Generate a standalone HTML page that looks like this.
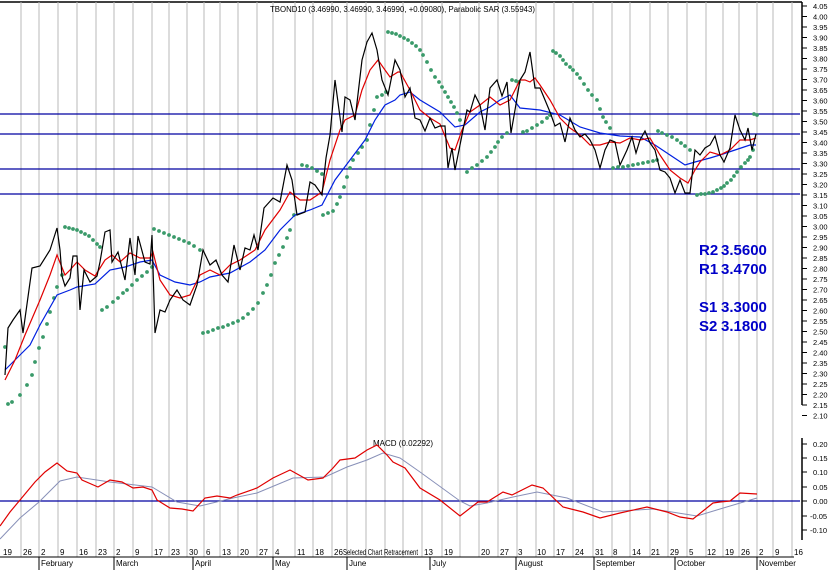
<!DOCTYPE html>
<html><head><meta charset="utf-8"><style>
html,body{margin:0;padding:0;background:#fff;}
svg{display:block;font-family:"Liberation Sans",Arial,sans-serif;}
</style></head><body>
<svg width="836" height="570" viewBox="0 0 836 570" xmlns="http://www.w3.org/2000/svg">
<rect width="836" height="570" fill="#fff"/>
<line x1="0" y1="2" x2="802" y2="2" stroke="#000" stroke-width="1.5"/>
<g stroke="#b8b8b8" stroke-width="1">
<line x1="21" y1="2" x2="21" y2="557"/><line x1="39" y1="2" x2="39" y2="557"/><line x1="58" y1="2" x2="58" y2="557"/><line x1="77" y1="2" x2="77" y2="557"/><line x1="96" y1="2" x2="96" y2="557"/><line x1="114" y1="2" x2="114" y2="557"/><line x1="133" y1="2" x2="133" y2="557"/><line x1="152" y1="2" x2="152" y2="557"/><line x1="169" y1="2" x2="169" y2="557"/><line x1="187" y1="2" x2="187" y2="557"/><line x1="204" y1="2" x2="204" y2="557"/><line x1="220" y1="2" x2="220" y2="557"/><line x1="238" y1="2" x2="238" y2="557"/><line x1="257" y1="2" x2="257" y2="557"/><line x1="273" y1="2" x2="273" y2="557"/><line x1="295" y1="2" x2="295" y2="557"/><line x1="313" y1="2" x2="313" y2="557"/><line x1="332" y1="2" x2="332" y2="557"/><line x1="347" y1="2" x2="347" y2="557"/><line x1="366" y1="2" x2="366" y2="557"/><line x1="385" y1="2" x2="385" y2="557"/><line x1="403" y1="2" x2="403" y2="557"/><line x1="422" y1="2" x2="422" y2="557"/><line x1="442" y1="2" x2="442" y2="557"/><line x1="460" y1="2" x2="460" y2="557"/><line x1="479" y1="2" x2="479" y2="557"/><line x1="498" y1="2" x2="498" y2="557"/><line x1="517" y1="2" x2="517" y2="557"/><line x1="536" y1="2" x2="536" y2="557"/><line x1="554" y1="2" x2="554" y2="557"/><line x1="573" y1="2" x2="573" y2="557"/><line x1="593" y1="2" x2="593" y2="557"/><line x1="612" y1="2" x2="612" y2="557"/><line x1="630" y1="2" x2="630" y2="557"/><line x1="650" y1="2" x2="650" y2="557"/><line x1="668" y1="2" x2="668" y2="557"/><line x1="687" y1="2" x2="687" y2="557"/><line x1="706" y1="2" x2="706" y2="557"/><line x1="723" y1="2" x2="723" y2="557"/><line x1="739" y1="2" x2="739" y2="557"/><line x1="757" y1="2" x2="757" y2="557"/><line x1="773" y1="2" x2="773" y2="557"/><line x1="792" y1="2" x2="792" y2="557"/>
</g>
<g stroke="#0000a0" stroke-width="1.3">
<line x1="0" y1="114" x2="800" y2="114"/><line x1="0" y1="134" x2="800" y2="134"/><line x1="0" y1="169" x2="800" y2="169"/><line x1="0" y1="194" x2="800" y2="194"/>
<line x1="0" y1="501" x2="800" y2="501"/>
</g>
<text x="270" y="12" font-size="8" textLength="265" lengthAdjust="spacingAndGlyphs" fill="#000">TBOND10 (3.46990, 3.46990, 3.46990, +0.09080), Parabolic SAR (3.55943)</text>
<g fill="#3a9a6a">
<circle cx="5" cy="347" r="1.9"/><circle cx="8" cy="404" r="1.9"/><circle cx="12" cy="402" r="1.9"/><circle cx="20" cy="395" r="1.9"/><circle cx="27" cy="385" r="1.9"/><circle cx="32" cy="375" r="1.9"/><circle cx="35" cy="362" r="1.9"/><circle cx="39" cy="348" r="1.9"/><circle cx="43" cy="337" r="1.9"/><circle cx="47" cy="324" r="1.9"/><circle cx="50" cy="312" r="1.9"/><circle cx="54" cy="298" r="1.9"/><circle cx="57" cy="287" r="1.9"/><circle cx="62" cy="275" r="1.9"/>
<circle cx="65" cy="227" r="1.9"/><circle cx="69" cy="228" r="1.9"/><circle cx="73" cy="229" r="1.9"/><circle cx="77" cy="230" r="1.9"/><circle cx="81" cy="232" r="1.9"/><circle cx="85" cy="234" r="1.9"/><circle cx="89" cy="236" r="1.9"/><circle cx="93" cy="240" r="1.9"/><circle cx="97" cy="244" r="1.9"/><circle cx="100" cy="247" r="1.9"/>
<circle cx="102" cy="310" r="1.9"/><circle cx="107" cy="307" r="1.9"/><circle cx="113" cy="302" r="1.9"/><circle cx="118" cy="298" r="1.9"/><circle cx="123" cy="293" r="1.9"/><circle cx="127" cy="290" r="1.9"/><circle cx="132" cy="285" r="1.9"/><circle cx="137" cy="280" r="1.9"/><circle cx="142" cy="276" r="1.9"/><circle cx="147" cy="272" r="1.9"/><circle cx="152" cy="267" r="1.9"/>
<circle cx="154" cy="229" r="1.9"/><circle cx="159" cy="231" r="1.9"/><circle cx="164" cy="233" r="1.9"/><circle cx="169" cy="235" r="1.9"/><circle cx="174" cy="237" r="1.9"/><circle cx="179" cy="239" r="1.9"/><circle cx="184" cy="241" r="1.9"/><circle cx="189" cy="243" r="1.9"/><circle cx="194" cy="246" r="1.9"/><circle cx="200" cy="250" r="1.9"/>
<circle cx="203" cy="333" r="1.9"/><circle cx="208" cy="332" r="1.9"/><circle cx="213" cy="330" r="1.9"/><circle cx="218" cy="328" r="1.9"/><circle cx="223" cy="327" r="1.9"/><circle cx="228" cy="325" r="1.9"/><circle cx="233" cy="323" r="1.9"/><circle cx="238" cy="321" r="1.9"/><circle cx="243" cy="318" r="1.9"/><circle cx="248" cy="314" r="1.9"/><circle cx="253" cy="309" r="1.9"/><circle cx="258" cy="303" r="1.9"/><circle cx="263" cy="293" r="1.9"/><circle cx="267" cy="285" r="1.9"/><circle cx="271" cy="275" r="1.9"/><circle cx="275" cy="263" r="1.9"/><circle cx="279" cy="255" r="1.9"/><circle cx="283" cy="247" r="1.9"/><circle cx="287" cy="238" r="1.9"/><circle cx="290" cy="230" r="1.9"/><circle cx="294" cy="215" r="1.9"/>
<circle cx="302" cy="165" r="1.9"/><circle cx="307" cy="166" r="1.9"/><circle cx="312" cy="168" r="1.9"/><circle cx="317" cy="171" r="1.9"/><circle cx="322" cy="174" r="1.9"/>
<circle cx="323" cy="215" r="1.9"/><circle cx="328" cy="213" r="1.9"/><circle cx="333" cy="211" r="1.9"/><circle cx="337" cy="204" r="1.9"/><circle cx="340" cy="197" r="1.9"/><circle cx="344" cy="187" r="1.9"/><circle cx="347" cy="177" r="1.9"/><circle cx="350" cy="168" r="1.9"/><circle cx="353" cy="160" r="1.9"/><circle cx="358" cy="153" r="1.9"/><circle cx="362" cy="147" r="1.9"/><circle cx="367" cy="140" r="1.9"/><circle cx="370" cy="125" r="1.9"/><circle cx="374" cy="110" r="1.9"/><circle cx="377" cy="97" r="1.9"/><circle cx="382" cy="95" r="1.9"/><circle cx="386" cy="92" r="1.9"/>
<circle cx="388" cy="32" r="1.9"/><circle cx="392" cy="33" r="1.9"/><circle cx="396" cy="34" r="1.9"/><circle cx="400" cy="36" r="1.9"/><circle cx="404" cy="38" r="1.9"/><circle cx="408" cy="40" r="1.9"/><circle cx="412" cy="43" r="1.9"/><circle cx="416" cy="46" r="1.9"/><circle cx="420" cy="50" r="1.9"/><circle cx="423" cy="55" r="1.9"/><circle cx="427" cy="62" r="1.9"/><circle cx="431" cy="70" r="1.9"/><circle cx="435" cy="77" r="1.9"/><circle cx="439" cy="82" r="1.9"/><circle cx="442" cy="87" r="1.9"/><circle cx="445" cy="92" r="1.9"/><circle cx="448" cy="97" r="1.9"/><circle cx="451" cy="102" r="1.9"/><circle cx="454" cy="107" r="1.9"/><circle cx="457" cy="113" r="1.9"/><circle cx="460" cy="120" r="1.9"/>
<circle cx="467" cy="172" r="1.9"/><circle cx="472" cy="168" r="1.9"/><circle cx="477" cy="165" r="1.9"/><circle cx="482" cy="161" r="1.9"/><circle cx="487" cy="157" r="1.9"/><circle cx="491" cy="152" r="1.9"/><circle cx="495" cy="147" r="1.9"/><circle cx="498" cy="142" r="1.9"/><circle cx="502" cy="137" r="1.9"/><circle cx="507" cy="133" r="1.9"/><circle cx="512" cy="80" r="1.9"/><circle cx="516" cy="81" r="1.9"/><circle cx="519" cy="82" r="1.9"/><circle cx="523" cy="132" r="1.9"/><circle cx="527" cy="131" r="1.9"/><circle cx="532" cy="128" r="1.9"/><circle cx="537" cy="125" r="1.9"/><circle cx="542" cy="122" r="1.9"/><circle cx="547" cy="118" r="1.9"/><circle cx="550" cy="115" r="1.9"/>
<circle cx="553" cy="51" r="1.9"/><circle cx="556" cy="53" r="1.9"/><circle cx="560" cy="56" r="1.9"/><circle cx="563" cy="60" r="1.9"/><circle cx="566" cy="64" r="1.9"/><circle cx="570" cy="67" r="1.9"/><circle cx="573" cy="70" r="1.9"/><circle cx="577" cy="74" r="1.9"/><circle cx="580" cy="78" r="1.9"/><circle cx="584" cy="84" r="1.9"/><circle cx="588" cy="90" r="1.9"/><circle cx="592" cy="95" r="1.9"/><circle cx="597" cy="100" r="1.9"/><circle cx="600" cy="109" r="1.9"/><circle cx="603" cy="117" r="1.9"/><circle cx="606" cy="122" r="1.9"/><circle cx="610" cy="128" r="1.9"/>
<circle cx="613" cy="168" r="1.9"/><circle cx="618" cy="167" r="1.9"/><circle cx="623" cy="167" r="1.9"/><circle cx="628" cy="166" r="1.9"/><circle cx="633" cy="165" r="1.9"/><circle cx="638" cy="164" r="1.9"/><circle cx="643" cy="163" r="1.9"/><circle cx="648" cy="162" r="1.9"/><circle cx="653" cy="161" r="1.9"/><circle cx="657" cy="160" r="1.9"/>
<circle cx="658" cy="131" r="1.9"/><circle cx="662" cy="133" r="1.9"/><circle cx="667" cy="135" r="1.9"/><circle cx="672" cy="137" r="1.9"/><circle cx="677" cy="140" r="1.9"/><circle cx="681" cy="143" r="1.9"/><circle cx="685" cy="146" r="1.9"/><circle cx="690" cy="150" r="1.9"/>
<circle cx="697" cy="195" r="1.9"/><circle cx="701" cy="194" r="1.9"/><circle cx="705" cy="194" r="1.9"/><circle cx="709" cy="193" r="1.9"/><circle cx="713" cy="192" r="1.9"/><circle cx="717" cy="190" r="1.9"/><circle cx="721" cy="188" r="1.9"/><circle cx="724" cy="186" r="1.9"/><circle cx="727" cy="183" r="1.9"/><circle cx="731" cy="180" r="1.9"/><circle cx="734" cy="176" r="1.9"/><circle cx="737" cy="172" r="1.9"/><circle cx="741" cy="167" r="1.9"/><circle cx="745" cy="163" r="1.9"/><circle cx="748" cy="160" r="1.9"/><circle cx="750" cy="157" r="1.9"/><circle cx="753" cy="150" r="1.9"/>
<circle cx="754" cy="114" r="1.9"/><circle cx="757" cy="115" r="1.9"/>
</g>
<polyline fill="none" stroke="#0020e0" stroke-width="1.2" points="5,370 20,355 30,345 40,325 57,295 70,290 77,287 95,284 110,270 125,267 140,262 152,260 160,275 175,282 190,285 200,282 210,277 230,273 250,262 265,250 280,230 295,215 310,210 322,205 335,180 350,160 365,140 375,120 385,105 395,100 400,95 410,92 420,100 440,112 455,127 465,125 480,112 490,107 500,100 510,95 520,108 540,110 560,115 580,127 600,133 620,136 640,137 655,145 670,155 685,165 695,162 710,158 720,155 735,150 750,145 756,145"/>
<polyline fill="none" stroke="#e00000" stroke-width="1.2" points="5,380 15,360 25,335 40,300 50,275 57,255 65,275 70,270 77,262 85,270 95,276 105,260 112,255 120,262 130,253 140,258 150,258 153,252 160,280 170,295 180,298 190,295 200,275 210,270 220,275 230,265 240,260 255,250 265,230 280,210 290,192 300,200 310,200 322,192 330,160 340,130 345,120 355,115 362,90 370,70 378,60 385,70 390,77 398,72 400,72 410,90 420,110 430,118 440,124 450,148 455,150 462,130 470,112 480,105 490,97 500,105 510,100 515,90 520,80 525,80 530,82 535,78 540,85 550,100 560,118 570,128 580,135 590,145 600,145 610,142 620,143 630,138 640,140 650,138 660,155 670,170 680,178 688,183 695,170 700,162 710,152 720,155 730,150 740,140 750,140 756,138"/>
<polyline fill="none" stroke="#000" stroke-width="1.2" points="5,375 8,328 13,320 20,310 23,333 32,268 40,266 50,250 57,228 60,250 62,276 65,286 70,278 73,256 77,256 80,310 84,270 90,282 97,276 100,262 105,232 110,230 112,262 118,252 125,280 130,238 135,275 138,236 145,262 150,264 152,235 155,333 160,310 165,312 170,300 177,290 183,300 190,305 197,285 203,250 210,265 216,260 222,275 228,282 234,245 240,270 245,248 250,250 254,235 258,250 264,208 273,198 280,202 287,165 292,180 297,215 305,212 310,182 315,185 322,195 326,158 330,135 335,80 342,132 345,97 350,100 355,120 362,60 367,42 372,33 377,50 382,80 388,95 395,60 400,70 405,97 410,88 415,118 420,120 425,131 430,118 435,128 440,126 445,126 448,168 452,148 455,170 460,145 467,110 470,112 475,95 480,105 485,130 490,88 497,80 502,96 507,82 511,133 515,110 520,80 525,72 530,52 535,88 540,88 545,100 550,112 555,126 560,123 565,142 570,118 575,130 580,137 585,134 590,140 595,150 600,168 605,150 610,140 615,142 620,165 627,150 632,137 636,153 640,140 645,131 650,143 655,150 660,170 665,172 670,178 675,193 680,180 685,193 690,193 695,150 700,155 705,148 710,145 715,136 720,155 724,162 730,148 735,115 740,130 745,140 748,128 752,150 756,134"/>
<g font-size="15" font-weight="bold" fill="#0000c8">
<text x="699" y="255">R2</text><text x="721" y="255">3.5600</text>
<text x="699" y="274">R1</text><text x="721" y="274">3.4700</text>
<text x="699" y="312">S1</text><text x="721" y="312">3.3000</text>
<text x="699" y="331">S2</text><text x="721" y="331">3.1800</text>
</g>
<text x="373" y="446" font-size="8" fill="#000">MACD (0.02292)</text>
<polyline fill="none" stroke="#8890b8" stroke-width="1" points="0,539 20,518 39,502 60,481 77,477 110,482 152,487 177,502 200,506 233,498 257,493 293,478 325,477 347,467 367,460 383,453 400,458 420,472 460,501 470,506 487,503 513,497 537,492 567,498 603,512 653,509 697,516 720,509 757,498"/>
<polyline fill="none" stroke="#e00000" stroke-width="1.2" points="0,526 10,512 20,500 35,482 45,472 57,463 67,471 77,473 82,480 98,487 110,480 122,482 133,488 143,487 152,490 157,500 170,508 182,509 193,511 205,498 217,496 230,498 237,495 257,488 273,478 290,470 308,480 323,478 333,468 340,460 355,458 367,450 377,445 387,455 393,462 405,468 420,488 440,500 460,516 478,502 487,502 503,492 512,495 532,485 543,488 563,507 583,512 600,518 620,513 647,507 667,512 680,517 693,519 713,503 720,502 730,501 740,493 757,494"/>
<line x1="802" y1="2" x2="802" y2="405" stroke="#000" stroke-width="1.5"/>
<line x1="802" y1="438" x2="802" y2="540" stroke="#000" stroke-width="1.5"/>
<g stroke="#000" stroke-width="1">
<path d="M802 6h5M802 16.5h5M802 27h5M802 37.5h5M802 48h5M802 58.5h5M802 69h5M802 79.5h5M802 90h5M802 100.5h5M802 111h5M802 121.5h5M802 132h5M802 142.5h5M802 153h5M802 163.5h5M802 174h5M802 184.5h5M802 195h5M802 205.5h5M802 216h5M802 226.5h5M802 237h5M802 247.5h5M802 258h5M802 268.5h5M802 279h5M802 289.5h5M802 300h5M802 310.5h5M802 321h5M802 331.5h5M802 342h5M802 352.5h5M802 363h5M802 373.5h5M802 384h5M802 394.5h5M802 405h5M802 415.5h5"/>
<path d="M802 444h5M802 458h5M802 472h5M802 487h5M802 501h5M802 516h5M802 530h5"/>
</g>
<g font-size="7.5" fill="#000">
<text x="813" y="9">4.05</text><text x="813" y="19.5">4.00</text><text x="813" y="30">3.95</text><text x="813" y="40.5">3.90</text><text x="813" y="51">3.85</text><text x="813" y="61.5">3.80</text><text x="813" y="72">3.75</text><text x="813" y="82.5">3.70</text><text x="813" y="93">3.65</text><text x="813" y="103.5">3.60</text><text x="813" y="114">3.55</text><text x="813" y="124.5">3.50</text><text x="813" y="135">3.45</text><text x="813" y="145.5">3.40</text><text x="813" y="156">3.35</text><text x="813" y="166.5">3.30</text><text x="813" y="177">3.25</text><text x="813" y="187.5">3.20</text><text x="813" y="198">3.15</text><text x="813" y="208.5">3.10</text><text x="813" y="219">3.05</text><text x="813" y="229.5">3.00</text><text x="813" y="240">2.95</text><text x="813" y="250.5">2.90</text><text x="813" y="261">2.85</text><text x="813" y="271.5">2.80</text><text x="813" y="282">2.75</text><text x="813" y="292.5">2.70</text><text x="813" y="303">2.65</text><text x="813" y="313.5">2.60</text><text x="813" y="324">2.55</text><text x="813" y="334.5">2.50</text><text x="813" y="345">2.45</text><text x="813" y="355.5">2.40</text><text x="813" y="366">2.35</text><text x="813" y="376.5">2.30</text><text x="813" y="387">2.25</text><text x="813" y="397.5">2.20</text><text x="813" y="408">2.15</text><text x="813" y="418.5">2.10</text>
<text x="813" y="447">0.20</text><text x="813" y="461">0.15</text><text x="813" y="475">0.10</text><text x="813" y="490">0.05</text><text x="813" y="504">0.00</text><text x="810" y="519">-0.05</text><text x="810" y="533">-0.10</text>
</g>
<line x1="0" y1="557" x2="794" y2="557" stroke="#000" stroke-width="1"/>
<g stroke="#000" stroke-width="1">
<path d="M39 557V570M114 557V570M193 557V570M273 557V570M347 557V570M430 557V570M516 557V570M594 557V570M675 557V570M757 557V570"/>
</g>
<g font-size="8" fill="#000">
<text x="3" y="555">19</text><text x="23" y="555">26</text><text x="41" y="555">2</text><text x="60" y="555">9</text><text x="79" y="555">16</text><text x="98" y="555">23</text><text x="116" y="555">2</text><text x="135" y="555">9</text><text x="154" y="555">17</text><text x="171" y="555">23</text><text x="189" y="555">30</text><text x="206" y="555">6</text><text x="222" y="555">13</text><text x="240" y="555">20</text><text x="259" y="555">27</text><text x="275" y="555">4</text><text x="297" y="555">11</text><text x="315" y="555">18</text><text x="334" y="555">26</text>
<text x="343" y="555" textLength="75" lengthAdjust="spacingAndGlyphs">Selected Chart Retracement</text>
<text x="424" y="555">13</text><text x="444" y="555">19</text><text x="481" y="555">20</text><text x="500" y="555">27</text><text x="518" y="555">3</text><text x="537" y="555">10</text><text x="556" y="555">17</text><text x="575" y="555">24</text><text x="595" y="555">31</text><text x="613" y="555">8</text><text x="632" y="555">14</text><text x="651" y="555">21</text><text x="670" y="555">29</text><text x="689" y="555">5</text><text x="707" y="555">12</text><text x="725" y="555">19</text><text x="741" y="555">26</text><text x="759" y="555">2</text><text x="775" y="555">9</text><text x="794" y="555">16</text>
<text x="41" y="566">February</text><text x="116" y="566">March</text><text x="195" y="566">April</text><text x="275" y="566">May</text><text x="349" y="566">June</text><text x="432" y="566">July</text><text x="518" y="566">August</text><text x="596" y="566">September</text><text x="677" y="566">October</text><text x="759" y="566">November</text>
</g>
</svg>
</body></html>
